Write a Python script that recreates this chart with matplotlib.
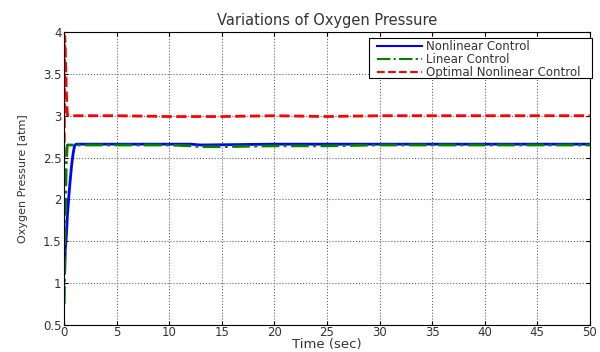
import matplotlib
matplotlib.use("Agg")
import matplotlib.pyplot as plt
from matplotlib.patches import Rectangle

plt.rcParams["font.family"] = ["DejaVu Sans"]

# values
t_nl = [0.05, 0.1, 0.2, 0.3, 0.45, 0.55, 0.7, 0.85, 1.0, 1.2, 5, 10, 12, 13, 20, 25, 30, 40, 50]
p_nl = [1.15, 1.4, 1.55, 1.8, 2.05, 2.2, 2.4, 2.55, 2.65, 2.66, 2.66, 2.66, 2.66, 2.65, 2.66, 2.66, 2.66, 2.66, 2.66]

t_lin = [0.0, 0.05, 0.1, 0.15, 0.2, 0.3, 0.5, 5, 10, 12, 13, 15, 20, 25, 30, 40, 50]
p_lin = [0.75, 1.2, 1.7, 2.1, 2.45, 2.65, 2.65, 2.65, 2.65, 2.64, 2.63, 2.63, 2.64, 2.64, 2.65, 2.65, 2.65]

t_opt = [0.0, 0.05, 0.1, 0.2, 0.3, 0.5, 5, 10, 15, 20, 25, 30, 40, 50]
p_opt = [2.5, 3.95, 3.8, 3.3, 3.01, 3.0, 3.0, 2.99, 2.99, 3.0, 2.99, 3.0, 3.0, 3.0]

W, H = 600, 352
fig = plt.figure(figsize=(W / 100, H / 100), dpi=100)
ax = fig.add_axes([0.107, 0.077, 0.876, 0.832])

ax.plot(t_nl, p_nl, color="#0000ff", linewidth=2, label="Nonlinear Control")
ax.plot(t_lin, p_lin, color="#008000", linewidth=2, linestyle="-.", label="Linear Control")
ax.plot(t_opt, p_opt, color="#ff0000", linewidth=2, linestyle="--", label="Optimal Nonlinear Control")

ax.set_xlim(0, 50)
ax.set_ylim(0.5, 4)
ax.set_xticks(range(0, 51, 5))
ax.set_yticks([0.5, 1, 1.5, 2, 2.5, 3, 3.5, 4])
ax.set_yticklabels(["0.5", "1", "1.5", "2", "2.5", "3", "3.5", "4"])
ax.tick_params(direction="in", top=True, right=True, labelsize=8.5, length=3,
               labelcolor="#333333", pad=2)
ax.tick_params(axis="x", pad=1)
ax.grid(True, linestyle=":", color="#666666", linewidth=0.8)

ax.set_title("Variations of Oxygen Pressure", fontsize=10.5, pad=5, color="#333333")
ax.set_xlabel("Time (sec)", fontsize=9.5, labelpad=-1, color="#333333")
ax.set_ylabel("Oxygen Pressure [atm]", fontsize=8, labelpad=10.5, color="#333333")

# legend box, MATLAB style: wide frame, tight rows
frame = Rectangle((369 / W, 1 - 78 / H), 223 / W, 40 / H, transform=fig.transFigure,
                  facecolor="white", edgecolor="black", linewidth=0.8, zorder=4.5,
                  clip_on=False)
ax.add_artist(frame)
leg = ax.legend(loc="upper left", bbox_to_anchor=(377 / W, 1 - 40 / H),
                bbox_transform=fig.transFigure, fontsize=8.5, frameon=False,
                borderaxespad=0, borderpad=0, handlelength=3.8,
                handletextpad=0.35, labelspacing=0.0)
leg.set_zorder(5)
for line in leg.get_lines():
    line.set_linewidth(1.5)
for txt in leg.get_texts():
    txt.set_color("#333333")

fig.savefig("out.png", dpi=100)
